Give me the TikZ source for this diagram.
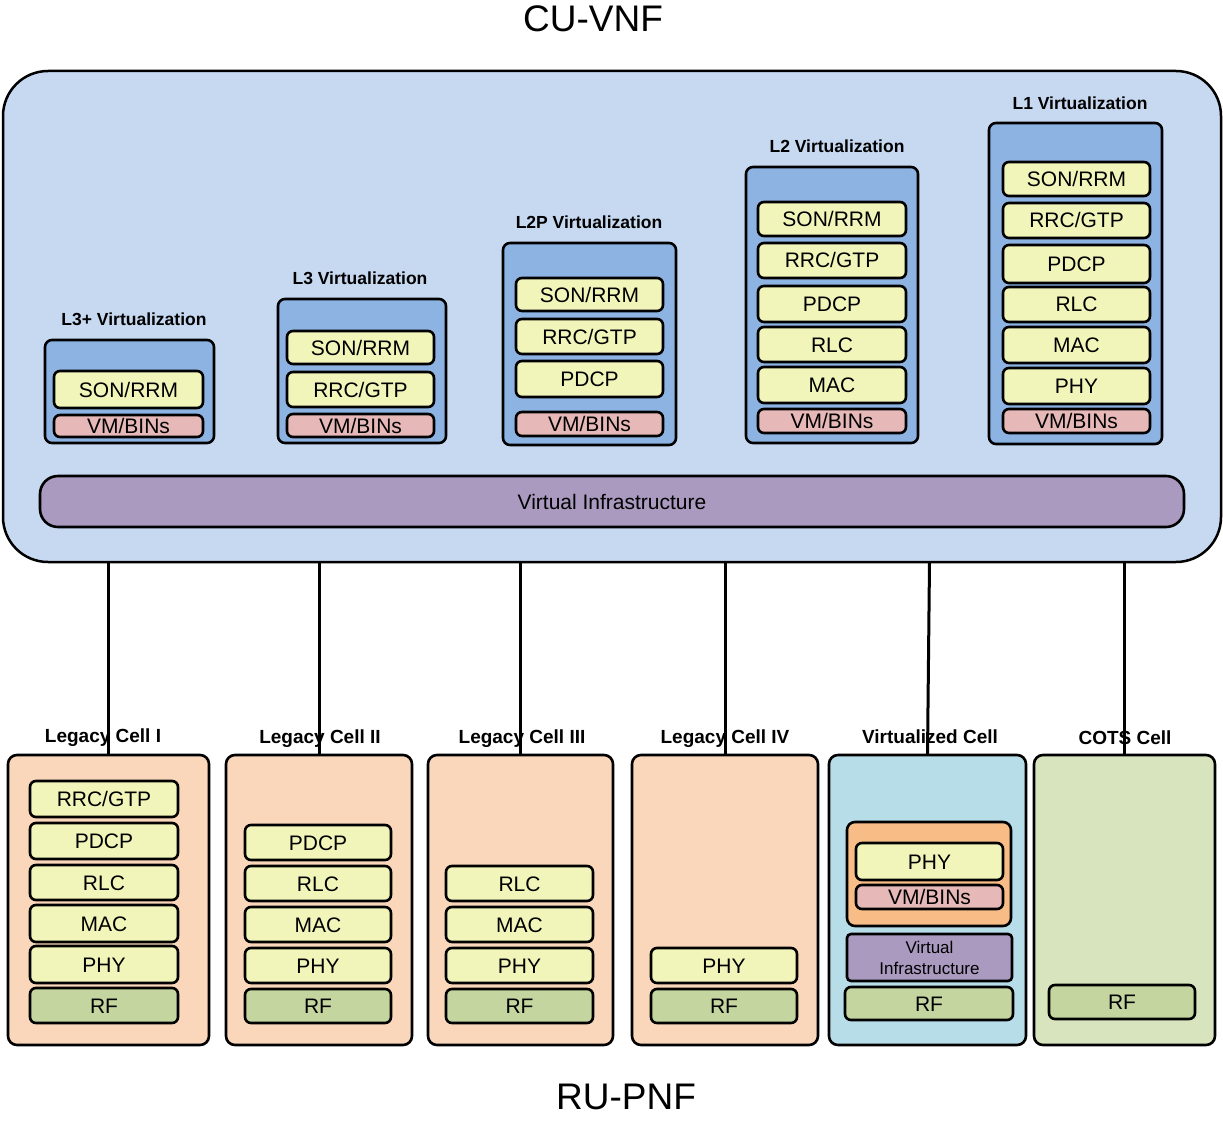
\documentclass[tikz,border=0pt]{standalone}
\usepackage{fontspec}
\setmainfont{Liberation Sans}

\definecolor{cuBlue}{HTML}{C6D9F1}
\definecolor{virtBlue}{HTML}{8DB3E2}
\definecolor{layerYellow}{HTML}{F2F5B9}
\definecolor{vmPink}{HTML}{E6B8B7}
\definecolor{infraPurple}{HTML}{AA9AC0}
\definecolor{legacyPeach}{HTML}{FAD6BA}
\definecolor{rfGreen}{HTML}{C4D59F}
\definecolor{virtCyan}{HTML}{B7DDE8}
\definecolor{hostOrange}{HTML}{F8BC86}
\definecolor{cotsGreen}{HTML}{D7E4BD}

\newcommand\fsz[2]{\fontsize{#1}{#2}\selectfont}
% box by its two corners: name, style, x1, y1, x2, y2, text
\newcommand\blk[7]{%
  \node[#2, minimum width={#5-#3}, minimum height={#6-#4}] (#1)
    at ({(#3+#5)/2},{(#4+#6)/2}) {#7};}

\tikzset{
  every node/.style={inner sep=0pt, outer sep=0pt},
  outline/.style={draw=black, line width=2.6pt},
  blockbase/.style={outline, rounded corners=6pt, align=center},
  layer/.style={blockbase, font=\fsz{21}{25}, text height=15pt, text depth=0pt},
  ylw/.style={layer, fill=layerYellow},
  vmb/.style={layer, fill=vmPink},
  rfb/.style={layer, fill=rfGreen},
  virtbox/.style={outline, rounded corners=7pt, fill=virtBlue},
  cellbox/.style={outline, rounded corners=9pt},
  grouplabel/.style={font=\bfseries\fsz{17.5}{21}, anchor=base},
  celllabel/.style={font=\bfseries\fsz{19}{23}, anchor=base},
  title/.style={font=\fsz{37}{44}, anchor=base},
  link/.style={draw=black, line width=3pt},
}

\begin{document}
\begin{tikzpicture}[x=1pt,y=-1pt]
\useasboundingbox (0,0) rectangle (1223,1123);

% titles
\node[title] (cutitle) at (593,32) {CU-VNF};
\node[title] (rutitle) at (626,1109) {RU-PNF};

% central unit
\blk{vnf}{outline, line width=2.5pt, rounded corners=45pt, fill=cuBlue}{3}{71}{1221}{562}{}
\blk{vi}{outline, rounded corners=18pt, fill=infraPurple, font=\fsz{21}{25}, text height=15pt, text depth=0pt}{40}{476}{1184}{527}{Virtual Infrastructure}

% L3+ virtualization
\node[grouplabel] (l3plab) at (134,325) {L3+ Virtualization};
\blk{l3p}{virtbox}{45}{340}{214}{443}{}
\blk{l3pson}{ylw}{54}{371}{203}{408}{SON/RRM}
\blk{l3pvm}{vmb}{54}{415}{203}{437}{VM/BINs}

% L3 virtualization
\node[grouplabel] (l3lab) at (360,284.5) {L3 Virtualization};
\blk{l3}{virtbox}{278}{299}{446}{443}{}
\blk{l3son}{ylw}{287}{331}{434}{364}{SON/RRM}
\blk{l3rrc}{ylw}{287}{372}{434}{407}{RRC/GTP}
\blk{l3vm}{vmb}{287}{414}{434}{437}{VM/BINs}

% L2P virtualization
\node[grouplabel] (l2plab) at (589,228.5) {L2P Virtualization};
\blk{l2p}{virtbox}{503}{243}{676}{445}{}
\blk{l2pson}{ylw}{516}{278}{663}{311}{SON/RRM}
\blk{l2prrc}{ylw}{516}{319}{663}{354}{RRC/GTP}
\blk{l2ppdcp}{ylw}{516}{361}{663}{397}{PDCP}
\blk{l2pvm}{vmb}{516}{412}{663}{436}{VM/BINs}

% L2 virtualization
\node[grouplabel] (l2lab) at (837,153) {L2 Virtualization};
\blk{l2}{virtbox}{746}{167}{918}{443}{}
\blk{l2son}{ylw}{758}{202}{906}{236}{SON/RRM}
\blk{l2rrc}{ylw}{758}{243}{906}{278}{RRC/GTP}
\blk{l2pdcp}{ylw}{758}{286}{906}{322}{PDCP}
\blk{l2rlc}{ylw}{758}{327}{906}{362}{RLC}
\blk{l2mac}{ylw}{758}{367}{906}{403}{MAC}
\blk{l2vm}{vmb}{758}{409}{906}{433}{VM/BINs}

% L1 virtualization
\node[grouplabel] (l1lab) at (1080,110) {L1 Virtualization};
\blk{l1}{virtbox}{989}{123}{1162}{444}{}
\blk{l1son}{ylw}{1003}{162}{1150}{196}{SON/RRM}
\blk{l1rrc}{ylw}{1003}{203}{1150}{238}{RRC/GTP}
\blk{l1pdcp}{ylw}{1003}{245}{1150}{283}{PDCP}
\blk{l1rlc}{ylw}{1003}{287}{1150}{322}{RLC}
\blk{l1mac}{ylw}{1003}{327}{1150}{363}{MAC}
\blk{l1phy}{ylw}{1003}{368}{1150}{404}{PHY}
\blk{l1vm}{vmb}{1003}{409}{1150}{433}{VM/BINs}

% radio units
\node[celllabel] (c1lab) at (103,742) {Legacy Cell I};
\blk{c1}{cellbox, fill=legacyPeach}{8}{755}{209}{1045}{}
\blk{c1rrc}{ylw}{30}{781}{178}{817}{RRC/GTP}
\blk{c1pdcp}{ylw}{30}{823}{178}{859}{PDCP}
\blk{c1rlc}{ylw}{30}{865}{178}{900}{RLC}
\blk{c1mac}{ylw}{30}{905}{178}{942}{MAC}
\blk{c1phy}{ylw}{30}{946}{178}{983}{PHY}
\blk{c1rf}{rfb}{30}{988}{178}{1023}{RF}

\node[celllabel] (c2lab) at (320,743) {Legacy Cell II};
\blk{c2}{cellbox, fill=legacyPeach}{226}{755}{412}{1045}{}
\blk{c2pdcp}{ylw}{245}{825}{391}{860}{PDCP}
\blk{c2rlc}{ylw}{245}{866}{391}{901}{RLC}
\blk{c2mac}{ylw}{245}{907}{391}{942}{MAC}
\blk{c2phy}{ylw}{245}{948}{391}{983}{PHY}
\blk{c2rf}{rfb}{245}{989}{391}{1023}{RF}

\node[celllabel] (c3lab) at (522,743) {Legacy Cell III};
\blk{c3}{cellbox, fill=legacyPeach}{428}{755}{613}{1045}{}
\blk{c3rlc}{ylw}{446}{866}{593}{901}{RLC}
\blk{c3mac}{ylw}{446}{907}{593}{942}{MAC}
\blk{c3phy}{ylw}{446}{948}{593}{983}{PHY}
\blk{c3rf}{rfb}{446}{989}{593}{1023}{RF}

\node[celllabel] (c4lab) at (725,743) {Legacy Cell IV};
\blk{c4}{cellbox, fill=legacyPeach}{632}{755}{818}{1045}{}
\blk{c4phy}{ylw}{651}{948}{797}{983}{PHY}
\blk{c4rf}{rfb}{651}{989}{797}{1023}{RF}

\node[celllabel] (c5lab) at (930,743) {Virtualized Cell};
\blk{c5}{cellbox, fill=virtCyan}{829}{755}{1026}{1045}{}
\blk{c5host}{blockbase, rounded corners=8pt, fill=hostOrange}{847}{822}{1011}{926}{}
\blk{c5phy}{ylw}{856}{843}{1003}{880}{PHY}
\blk{c5vm}{vmb}{856}{885}{1003}{909}{VM/BINs}
\blk{c5vi}{blockbase, rounded corners=4pt, fill=infraPurple, font=\fsz{17}{21}}{847}{934}{1012}{981}{Virtual\\Infrastructure}
\blk{c5rf}{rfb}{845}{987}{1013}{1020}{RF}

\node[celllabel] (c6lab) at (1125,744) {COTS Cell};
\blk{c6}{cellbox, fill=cotsGreen}{1034}{755}{1215}{1045}{}
\blk{c6rf}{rfb}{1049}{985}{1195}{1019}{RF}

% fronthaul links
\draw[link] (c1.north) -- (c1.north |- vnf.south);
\draw[link] (c2.north) -- (c2.north |- vnf.south);
\draw[link] (c3.north) -- (c3.north |- vnf.south);
\draw[link] (c4.north) -- (c4.north |- vnf.south);
\draw[link] (c5.north) -- ([xshift=2pt]c5.north |- vnf.south);
\draw[link] (c6.north) -- (c6.north |- vnf.south);
\end{tikzpicture}
\end{document}
